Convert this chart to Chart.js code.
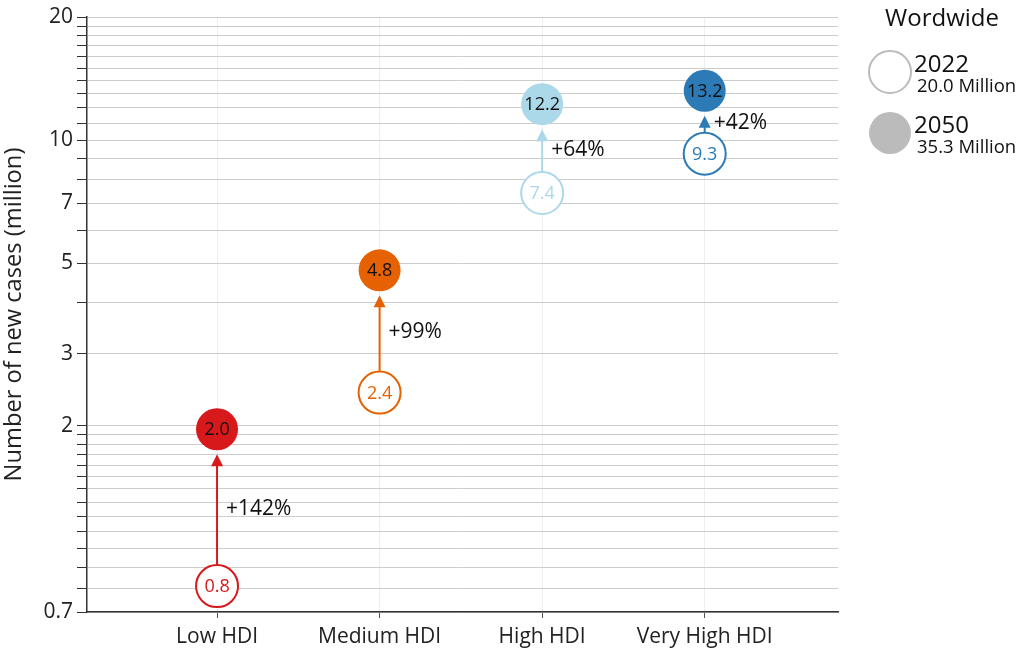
<!DOCTYPE html>
<html>
<head>
<meta charset="utf-8">
<script src="https://cdn.jsdelivr.net/npm/chart.js@4/dist/chart.umd.min.js"></script>
<style>
html,body{margin:0;padding:0;background:#fff;}
#wrap{width:1024px;height:655px;position:relative;}
</style>
</head>
<body>
<div id="wrap"><canvas id="c" width="1024" height="655"></canvas></div>
<script>
const categories = ['Low HDI', 'Medium HDI', 'High HDI', 'Very High HDI'];
const values2022 = [0.81, 2.41, 7.42, 9.26];
const values2050 = [1.96, 4.8, 12.24, 13.2];
const changeLabels = ['+142%', '+99%', '+64%', '+42%'];
const colors = ['#d7191c', '#e66101', '#abd9e9', '#2c7bb6'];
const gridValues = [0.7,0.8,0.9,1,1.1,1.2,1.3,1.4,1.5,1.6,1.7,1.8,1.9,2,3,4,5,6,7,8,9,10,11,12,13,14,15,16,17,18,19,20];
const labelValues = [0.7,2,3,5,7,10,20];
const legendItems = [
  {year:'2022', total:'20.0 Million', filled:false},
  {year:'2050', total:'35.3 Million', filled:true}
];
const legendTitle = 'Wordwide';

const FONT = "'Open Sans', 'Noto Sans', sans-serif";
Chart.defaults.font.family = FONT;
Chart.defaults.color = '#222';

const R = 21;

const overlay = {
  id: 'overlay',
  beforeDatasetsDraw(chart) {
    const ctx = chart.ctx, xs = chart.scales.x, ys = chart.scales.y;
    ctx.save();
    categories.forEach((c, i) => {
      const x = xs.getPixelForValue(i);
      const y0 = ys.getPixelForValue(values2022[i]) - R;
      const y1 = ys.getPixelForValue(values2050[i]) + R + 4;
      ctx.strokeStyle = colors[i];
      ctx.fillStyle = colors[i];
      ctx.lineWidth = 2;
      ctx.beginPath();
      ctx.moveTo(x, y0);
      ctx.lineTo(x, y1 + 10);
      ctx.stroke();
      ctx.beginPath();
      ctx.moveTo(x, y1);
      ctx.lineTo(x - 6, y1 + 12);
      ctx.lineTo(x + 6, y1 + 12);
      ctx.closePath();
      ctx.fill();
      ctx.fillStyle = '#111';
      ctx.font = '21px ' + FONT;
      ctx.textAlign = 'left';
      ctx.textBaseline = 'middle';
      ctx.fillText(changeLabels[i], x + 9, (y0 + y1) / 2 - 1);
    });
    ctx.restore();
  },
  afterDatasetsDraw(chart) {
    const ctx = chart.ctx, xs = chart.scales.x, ys = chart.scales.y;
    ctx.save();
    ctx.font = '18px ' + FONT;
    ctx.textAlign = 'center';
    ctx.textBaseline = 'middle';
    categories.forEach((c, i) => {
      const x = xs.getPixelForValue(i);
      ctx.fillStyle = colors[i];
      ctx.fillText(values2022[i].toFixed(1), x, ys.getPixelForValue(values2022[i]) + 1);
      ctx.fillStyle = '#111';
      ctx.fillText(values2050[i].toFixed(1), x, ys.getPixelForValue(values2050[i]) + 1);
    });
    // legend
    ctx.fillStyle = '#111';
    ctx.font = '24px ' + FONT;
    ctx.fillText(legendTitle, 942, 19);
    legendItems.forEach((it, k) => {
      const cy = 72 + k * 61;
      ctx.beginPath();
      ctx.arc(890, cy, R, 0, Math.PI * 2);
      if (it.filled) { ctx.fillStyle = '#bbbbbb'; ctx.fill(); }
      else { ctx.fillStyle = '#fff'; ctx.fill(); ctx.strokeStyle = '#bbbbbb'; ctx.lineWidth = 2; ctx.stroke(); }
      ctx.fillStyle = '#111';
      ctx.textAlign = 'left';
      ctx.font = '24px ' + FONT;
      ctx.fillText(it.year, 914, cy - 7);
      ctx.font = '18.5px ' + FONT;
      ctx.fillText(it.total, 917, cy + 15);
      ctx.textAlign = 'center';
    });
    ctx.restore();
  }
};

new Chart(document.getElementById('c'), {
  type: 'scatter',
  data: {
    datasets: [
      {
        label: '2022',
        data: values2022.map((v, i) => ({x: i, y: v})),
        backgroundColor: '#fff',
        borderColor: colors,
        borderWidth: 2,
        pointRadius: R,
        pointHoverRadius: R
      },
      {
        label: '2050',
        data: values2050.map((v, i) => ({x: i, y: v})),
        backgroundColor: colors,
        borderColor: colors,
        borderWidth: 0,
        pointRadius: R,
        pointHoverRadius: R
      }
    ]
  },
  plugins: [overlay],
  options: {
    responsive: false,
    animation: false,
    events: [],
    layout: {autoPadding: false, padding: {left: 0, top: 17, right: 186, bottom: 0}},
    plugins: {legend: {display: false}, tooltip: {enabled: false}},
    scales: {
      x: {
        type: 'linear',
        min: -0.8,
        max: 3.82,
        afterBuildTicks: s => { s.ticks = categories.map((c, i) => ({value: i})); },
        afterFit: s => { s.height = 43; s.paddingLeft = 0; s.paddingRight = 0; },
        ticks: {
          autoSkip: false,
          maxRotation: 0,
          padding: 6,
          font: {size: 21},
          color: '#222',
          callback: v => categories[v] ?? ''
        },
        grid: {color: '#eeeeee', lineWidth: 1, tickLength: 6, tickColor: '#555', drawOnChartArea: true},
        border: {color: '#333', width: 1.5}
      },
      y: {
        type: 'logarithmic',
        min: 0.7,
        max: 20,
        afterBuildTicks: s => { s.ticks = gridValues.map(v => ({value: v})); },
        afterFit: s => { s.width = 87; s.paddingTop = 0; s.paddingBottom = 0; },
        ticks: {
          autoSkip: false,
          padding: 4,
          font: {size: 21},
          color: '#222',
          callback: v => labelValues.includes(v) ? String(v) : ''
        },
        grid: {color: '#cccccc', lineWidth: 1, tickLength: 10, tickColor: '#333'},
        border: {color: '#333', width: 1.5},
        title: {display: true, text: 'Number of new cases (million)', font: {size: 23.7}, color: '#222', padding: {top: 0, bottom: 0}}
      }
    }
  }
});
</script>
</body>
</html>
